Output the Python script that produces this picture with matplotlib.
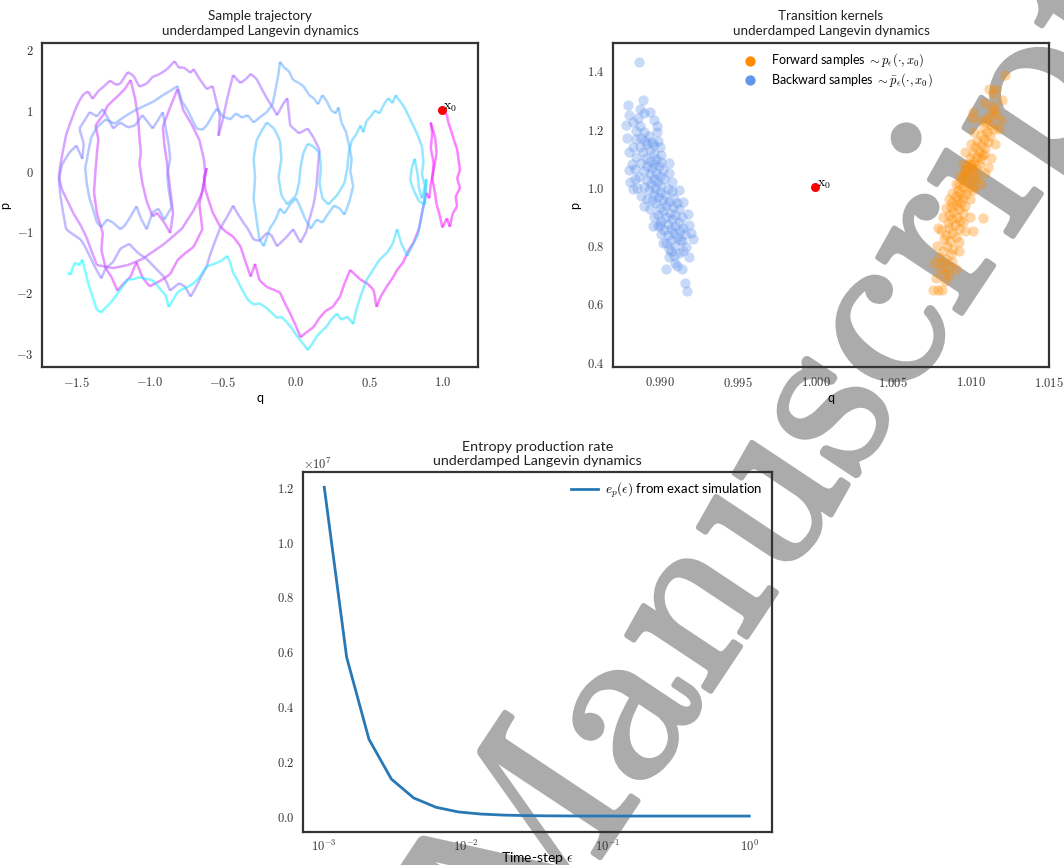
import numpy as np
import matplotlib
matplotlib.use("Agg")
import matplotlib.pyplot as plt
import matplotlib.patheffects as pe
from matplotlib.collections import LineCollection
from matplotlib.ticker import FuncFormatter

plt.rcParams['font.family'] = ['Lato', 'DejaVu Sans']
plt.rcParams['mathtext.fontset'] = 'cm'

# ---- panel 1: sample trajectory (q, p), in time order
traj = [
    # right loop (start at x0)
    (1.00, 1.00), (1.03, 0.93), (1.04, 0.80), (1.06, 0.66), (1.08, 0.50), (1.10, 0.36), (1.11, 0.18),
    (1.12, 0.02), (1.10, -0.12), (1.12, -0.28), (1.09, -0.42), (1.10, -0.58), (1.07, -0.70), (1.05, -0.92),
    (1.03, -0.78), (1.00, -0.93), (0.98, -0.72), (0.96, -0.55), (0.95, -0.38), (0.93, -0.12), (0.94, 0.12),
    (0.92, 0.38), (0.93, 0.62), (0.92, 0.80), (0.95, 0.55), (0.96, 0.30), (0.94, 0.02), (0.92, -0.22),
    (0.91, -0.45),
    # lower sweep to the left
    (0.89, -0.36), (0.86, -0.69), (0.84, -0.95), (0.80, -1.19), (0.77, -1.30), (0.73, -1.51), (0.69, -1.63),
    (0.66, -1.76), (0.62, -1.90), (0.58, -2.06), (0.55, -2.24), (0.53, -1.96), (0.49, -1.86), (0.44, -1.79),
    (0.40, -1.70), (0.37, -1.63), (0.33, -1.86), (0.30, -2.07), (0.25, -2.24), (0.20, -2.31), (0.16, -2.42),
    (0.12, -2.57), (0.07, -2.66), (0.03, -2.74), (0.00, -2.56), (-0.04, -2.35), (-0.08, -2.16), (-0.11, -2.00),
    (-0.16, -1.95), (-0.20, -1.91), (-0.25, -1.80), (-0.28, -1.53), (-0.31, -1.74), (-0.35, -1.46),
    (-0.38, -1.24), (-0.43, -1.08), (-0.48, -1.00), (-0.52, -0.91), (-0.57, -0.68), (-0.60, -0.46),
    (-0.62, -0.30), (-0.63, -0.10), (-0.61, 0.05), (-0.63, -0.20),
    # magenta loops on the left
    (-0.66, -0.55), (-0.64, -0.96), (-0.70, -1.25), (-0.76, -1.36), (-0.81, -1.47), (-0.86, -1.70),
    (-0.92, -1.80), (-1.00, -1.90), (-1.05, -1.75), (-1.09, -1.50), (-1.13, -1.74), (-1.18, -1.86),
    (-1.22, -1.97), (-1.26, -1.75), (-1.30, -1.60), (-1.33, -1.30), (-1.32, -1.02), (-1.36, -0.70),
    (-1.38, -0.35), (-1.37, 0.00), (-1.36, 0.30), (-1.35, 0.52), (-1.37, 0.75), (-1.31, 0.95), (-1.29, 1.07),
    (-1.22, 1.23), (-1.17, 1.35), (-1.13, 1.50), (-1.10, 1.20), (-1.08, 0.90), (-1.07, 0.56), (-1.06, 0.30),
    (-1.07, 0.13), (-1.05, -0.20), (-1.02, -0.50), (-0.98, -0.75), (-0.95, -0.69), (-0.90, -0.85),
    (-0.86, -1.02), (-0.84, -0.70), (-0.86, -0.30), (-0.88, 0.10), (-0.90, 0.45), (-0.91, 0.73),
    (-0.86, 1.05), (-0.81, 1.35), (-0.77, 1.00), (-0.72, 0.80), (-0.66, 0.51), (-0.63, 0.20), (-0.62, -0.05),
    (-0.64, -0.35), (-0.70, -0.65), (-0.78, -0.95), (-0.90, -1.20), (-1.05, -1.45), (-1.15, -1.55),
    (-1.25, -1.60), (-1.36, -1.55), (-1.40, -1.30), (-1.43, -1.10), (-1.47, -0.90), (-1.52, -0.70),
    (-1.56, -0.50), (-1.60, -0.30), (-1.62, -0.10), (-1.61, 0.10),
    # purple outer arc and middle loop
    (-1.59, 0.36), (-1.57, 0.60), (-1.55, 0.74), (-1.51, 1.00), (-1.48, 1.16), (-1.45, 1.27), (-1.42, 1.31),
    (-1.39, 1.19), (-1.35, 1.32), (-1.31, 1.40), (-1.27, 1.49), (-1.23, 1.42), (-1.20, 1.44), (-1.15, 1.63),
    (-1.11, 1.57), (-1.07, 1.39), (-1.02, 1.44), (-0.98, 1.55), (-0.93, 1.60), (-0.88, 1.68), (-0.83, 1.81),
    (-0.80, 1.70), (-0.77, 1.71), (-0.72, 1.62), (-0.70, 1.68), (-0.66, 1.52), (-0.61, 1.35), (-0.57, 1.40),
    (-0.54, 1.10), (-0.52, 0.91), (-0.53, 0.58), (-0.50, 0.85), (-0.47, 1.20), (-0.43, 1.58), (-0.38, 1.45),
    (-0.34, 1.52), (-0.31, 1.60), (-0.27, 1.52), (-0.24, 1.38), (-0.20, 1.20), (-0.16, 1.05), (-0.13, 0.92),
    (-0.09, 1.10), (-0.06, 1.20), (-0.04, 0.75), (0.02, 0.62), (0.08, 0.70), (0.12, 0.55), (0.16, 0.35),
    (0.15, 0.09), (0.14, -0.24), (0.12, -0.55), (0.09, -0.80), (0.07, -1.00), (0.03, -1.18), (-0.02, -0.96),
    (-0.07, -1.10), (-0.13, -1.24), (-0.17, -1.05), (-0.20, -1.02), (-0.25, -1.15), (-0.29, -1.13),
    (-0.33, -0.95), (-0.36, -0.85), (-0.40, -0.70), (-0.43, -0.57), (-0.47, -0.75), (-0.52, -0.95),
    (-0.56, -1.20), (-0.59, -1.40), (-0.61, -1.57), (-0.65, -1.75), (-0.68, -1.90), (-0.72, -2.07),
    (-0.76, -1.90), (-0.80, -1.85), (-0.86, -1.97), (-0.90, -1.75), (-0.96, -1.60), (-1.02, -1.45),
    (-1.08, -1.35), (-1.14, -1.20), (-1.20, -1.28), (-1.25, -1.50), (-1.30, -1.60), (-1.33, -1.77),
    (-1.37, -1.60), (-1.40, -1.45), (-1.44, -1.25), (-1.47, -1.13), (-1.52, -1.05), (-1.57, -0.96),
    (-1.59, -0.70), (-1.61, -0.40), (-1.62, -0.15), (-1.60, 0.10), (-1.55, 0.30), (-1.50, 0.42),
    # blue inner loops
    (-1.46, 0.20), (-1.45, 0.45), (-1.48, 0.70), (-1.44, 0.85), (-1.41, 0.97), (-1.36, 0.90), (-1.32, 1.02),
    (-1.28, 0.85), (-1.25, 0.70), (-1.20, 0.80), (-1.15, 0.72), (-1.10, 0.75), (-1.05, 0.92), (-1.01, 0.80),
    (-0.98, 0.70), (-0.94, 0.85), (-0.91, 0.97), (-0.89, 0.70), (-0.87, 0.45), (-0.86, 0.20), (-0.88, -0.05),
    (-0.87, -0.30), (-0.85, -0.60), (-0.88, -0.72), (-0.90, -0.80), (-0.94, -0.62), (-0.98, -0.68),
    (-1.02, -0.96), (-1.06, -0.78), (-1.09, -0.58), (-1.13, -0.75), (-1.17, -0.90), (-1.20, -0.96),
    (-1.25, -0.85), (-1.29, -0.80), (-1.33, -0.92), (-1.36, -0.85), (-1.39, -0.60), (-1.41, -0.46),
    (-1.43, -0.20), (-1.44, 0.05), (-1.42, 0.30), (-1.40, 0.55), (-1.36, 0.72), (-1.30, 0.85), (-1.24, 0.78),
    (-1.17, 0.90), (-1.10, 1.00), (-1.03, 1.08), (-0.97, 1.15), (-0.91, 1.25), (-0.86, 1.32), (-0.81, 1.40),
    (-0.78, 1.15), (-0.74, 1.00), (-0.71, 0.85), (-0.68, 0.70), (-0.64, 0.68), (-0.61, 0.75), (-0.57, 0.92),
    (-0.54, 1.03), (-0.50, 0.90), (-0.45, 0.85), (-0.41, 0.95), (-0.37, 0.88), (-0.33, 0.92), (-0.29, 0.80),
    (-0.25, 0.88), (-0.20, 0.97),
    # light blue loops in the middle and the right
    (-0.16, 1.10), (-0.14, 1.35), (-0.12, 1.60), (-0.11, 1.80), (-0.08, 1.70), (-0.05, 1.65), (-0.02, 1.50),
    (0.02, 1.45), (0.05, 1.40), (0.09, 1.25), (0.12, 1.20), (0.15, 1.10), (0.18, 1.25), (0.21, 1.15),
    (0.24, 1.00), (0.27, 0.95), (0.29, 1.05), (0.31, 0.80), (0.34, 0.65), (0.36, 0.45), (0.38, 0.20),
    (0.37, 0.00), (0.39, -0.25), (0.37, -0.45), (0.35, -0.60), (0.33, -0.72), (0.30, -0.62), (0.26, -0.57),
    (0.22, -0.70), (0.18, -0.85), (0.14, -0.80), (0.10, -0.95), (0.06, -0.78), (0.03, -0.60), (0.00, -0.45),
    (-0.04, -0.55), (-0.08, -0.70), (-0.11, -0.62), (-0.14, -0.80), (-0.18, -0.95), (-0.22, -1.24),
    (-0.25, -1.13), (-0.27, -0.80), (-0.29, -0.46), (-0.28, -0.10), (-0.29, 0.20), (-0.27, 0.50),
    (-0.24, 0.64), (-0.20, 0.80), (-0.15, 0.70), (-0.11, 0.50), (-0.10, 0.20), (-0.12, -0.10), (-0.10, -0.40),
    (-0.06, -0.55), (0.00, -0.40), (0.02, -0.20), (0.03, 0.05), (0.05, 0.30), (0.08, 0.45), (0.12, 0.40),
    (0.16, 0.30), (0.17, 0.05), (0.16, -0.20), (0.18, -0.45), (0.22, -0.55), (0.28, -0.40), (0.33, -0.20),
    (0.35, 0.05), (0.36, 0.30), (0.38, 0.50), (0.41, 0.60), (0.44, 0.75), (0.46, 0.64), (0.48, 0.82),
    (0.51, 0.90), (0.54, 1.00), (0.57, 0.95), (0.60, 1.10), (0.63, 1.20), (0.66, 1.12), (0.68, 1.25),
    (0.71, 1.15), (0.74, 1.05), (0.77, 0.90), (0.80, 0.75), (0.83, 0.60), (0.86, 0.40), (0.87, 0.15),
    (0.86, -0.05), (0.88, -0.25), (0.86, -0.45), (0.84, -0.30), (0.83, -0.05), (0.81, 0.20), (0.79, 0.05),
    (0.78, -0.15), (0.80, -0.30), (0.84, -0.50), (0.88, -0.55), (0.89, -0.13),
    # cyan return along the bottom
    (0.87, -0.58), (0.83, -1.07), (0.80, -1.20), (0.76, -1.40), (0.72, -1.20), (0.69, -0.96), (0.66, -1.20),
    (0.62, -1.35), (0.57, -1.46), (0.52, -1.65), (0.48, -1.80), (0.44, -2.07), (0.41, -2.30), (0.39, -2.52),
    (0.35, -2.40), (0.31, -2.45), (0.28, -2.35), (0.24, -2.45), (0.21, -2.56), (0.17, -2.65), (0.14, -2.73),
    (0.11, -2.85), (0.08, -2.95), (0.05, -2.85), (0.03, -2.79), (0.00, -2.70), (-0.02, -2.62), (-0.06, -2.50),
    (-0.10, -2.40), (-0.13, -2.42), (-0.16, -2.35), (-0.20, -2.26), (-0.25, -2.18), (-0.29, -2.20),
    (-0.33, -2.12), (-0.37, -1.95), (-0.40, -1.80), (-0.43, -1.68), (-0.45, -1.50), (-0.47, -1.40),
    (-0.51, -1.48), (-0.54, -1.51), (-0.58, -1.55), (-0.61, -1.57), (-0.64, -1.68), (-0.66, -1.75),
    (-0.70, -1.85), (-0.74, -1.91), (-0.78, -1.95), (-0.81, -2.00), (-0.84, -2.12), (-0.87, -2.24),
    (-0.89, -2.05), (-0.91, -2.00), (-0.95, -1.88), (-0.98, -1.80), (-1.02, -1.78), (-1.07, -1.75),
    (-1.11, -1.78), (-1.15, -1.79), (-1.19, -1.92), (-1.22, -2.02), (-1.25, -2.12), (-1.27, -2.18),
    (-1.30, -2.25), (-1.33, -2.33), (-1.36, -2.29), (-1.39, -2.07), (-1.42, -1.85), (-1.44, -1.65),
    (-1.46, -1.46), (-1.48, -1.55), (-1.51, -1.51), (-1.53, -1.62), (-1.54, -1.71), (-1.56, -1.68),
]
x0 = (1.0, 1.0)

# ---- panel 2: transition kernel samples (q, p)
backward = [
    (0.98865, 1.432), (0.98797, 1.283), (0.98799, 1.249), (0.98889, 1.300), (0.98897, 1.257), (0.98860, 1.240),
    (0.98830, 1.225), (0.98870, 1.210), (0.98845, 1.195), (0.98900, 1.190), (0.98985, 1.191), (0.98930, 1.175),
    (0.98880, 1.170), (0.98845, 1.165), (0.98905, 1.160), (0.98950, 1.155), (0.98920, 1.150), (0.98870, 1.140),
    (0.98960, 1.145), (0.99000, 1.140), (0.98935, 1.130), (0.98895, 1.120), (0.98960, 1.115), (0.98850, 1.105),
    (0.98910, 1.100), (0.98975, 1.098), (0.98940, 1.090), (0.98880, 1.085), (0.99010, 1.088), (0.98960, 1.080),
    (0.98920, 1.075), (0.98995, 1.072), (0.98840, 1.062), (0.98950, 1.065), (0.98900, 1.058), (0.99020, 1.060),
    (0.98975, 1.050), (0.98935, 1.045), (0.98865, 1.035), (0.99000, 1.040), (0.98960, 1.030), (0.98920, 1.025),
    (0.99030, 1.028), (0.98985, 1.018), (0.98945, 1.010), (0.98854, 0.997), (0.99010, 1.005), (0.98970, 0.998),
    (0.98930, 0.992), (0.99050, 0.995), (0.99000, 0.985), (0.98960, 0.978), (0.99080, 0.988), (0.99035, 0.975),
    (0.98990, 0.968), (0.99090, 0.965), (0.98950, 0.958), (0.99020, 0.955), (0.99060, 0.950), (0.99110, 0.948),
    (0.98975, 0.945), (0.99040, 0.938), (0.99000, 0.930), (0.99085, 0.932), (0.99120, 0.925), (0.99020, 0.918),
    (0.99065, 0.912), (0.98990, 0.905), (0.99100, 0.905), (0.99040, 0.898), (0.99140, 0.900), (0.99080, 0.890),
    (0.99010, 0.885), (0.99120, 0.880), (0.99050, 0.875), (0.99100, 0.868), (0.98957, 0.867), (0.98990, 0.866),
    (0.99150, 0.862), (0.99070, 0.858), (0.99030, 0.852), (0.99130, 0.850), (0.99090, 0.842), (0.99160, 0.840),
    (0.99050, 0.835), (0.99110, 0.828), (0.99070, 0.820), (0.99210, 0.823), (0.99140, 0.815), (0.99040, 0.808),
    (0.99100, 0.800), (0.99170, 0.795), (0.99060, 0.790), (0.99147, 0.782), (0.99120, 0.775), (0.99058, 0.761),
    (0.99090, 0.765), (0.99100, 0.740), (0.99143, 0.718), (0.99110, 0.730), (0.99038, 0.718), (0.99161, 0.671),
    (0.99172, 0.644), (0.98980, 1.210), (0.99010, 1.110), (0.98830, 1.140), (0.98820, 1.080), (0.98840, 1.030),
    (0.98810, 1.020), (0.98830, 0.995), (0.99080, 1.020), (0.99060, 1.050), (0.98800, 1.120), (0.98790, 1.170),
    (0.98960, 1.230), (0.98940, 1.260), (0.98780, 1.215), (0.99120, 0.990), (0.99150, 0.950), (0.98920, 0.960),
    (0.98900, 0.935), (0.99180, 0.910), (0.99190, 0.870), (0.98960, 0.900), (0.98940, 0.925), (0.99200, 0.845),
    (0.99005, 0.840), (0.99020, 0.810), (0.99190, 0.760), (0.99000, 0.870), (0.98900, 1.000), (0.98880, 0.970),
    (0.99060, 1.085), (0.98990, 1.160), (0.98870, 1.270), (0.98800, 1.060), (0.99130, 0.820), (0.99070, 0.780),
]
forward = [
    (1.01218, 1.386), (1.01115, 1.338), (1.01140, 1.320), (1.01160, 1.338), (1.01009, 1.260), (1.01005, 1.237),
    (1.01137, 1.280), (1.01150, 1.270), (1.01125, 1.255), (1.01110, 1.240), (1.01160, 1.250), (1.01095, 1.225),
    (1.01130, 1.215), (1.01080, 1.205), (1.01145, 1.200), (1.01100, 1.190), (1.01060, 1.180), (1.01120, 1.175),
    (1.01080, 1.165), (1.01040, 1.160), (1.01110, 1.155), (1.01065, 1.145), (1.01025, 1.140), (1.01090, 1.135),
    (1.01050, 1.125), (1.01010, 1.118), (1.01080, 1.115), (1.01035, 1.105), (1.00995, 1.100), (1.01065, 1.098),
    (1.01020, 1.088), (1.00985, 1.080), (1.01050, 1.080), (1.01005, 1.070), (1.00970, 1.062), (1.01040, 1.062),
    (1.00990, 1.052), (1.00955, 1.045), (1.01025, 1.045), (1.00975, 1.035), (1.00940, 1.028), (1.01010, 1.028),
    (1.00960, 1.018), (1.00925, 1.010), (1.00995, 1.012), (1.00945, 1.000), (1.00980, 0.995), (1.00915, 0.990),
    (1.00930, 0.982), (1.00965, 0.978), (1.00900, 0.972), (1.00950, 0.965), (1.00915, 0.958), (1.00880, 0.950),
    (1.00935, 0.948), (1.00900, 0.940), (1.00960, 0.935), (1.00870, 0.932), (1.00920, 0.925), (1.00885, 0.915),
    (1.00945, 0.912), (1.00860, 0.905), (1.00910, 0.900), (1.01077, 0.894), (1.00875, 0.890), (1.00930, 0.885),
    (1.00850, 0.878), (1.00895, 0.870), (1.00860, 0.860), (1.00806, 0.854), (1.00920, 0.858), (1.01009, 0.851),
    (1.00880, 0.845), (1.00840, 0.835), (1.00900, 0.830), (1.00827, 0.823), (1.00865, 0.815), (1.00920, 0.812),
    (1.00845, 0.800), (1.00885, 0.790), (1.00820, 0.782), (1.00870, 0.770), (1.00795, 0.762), (1.00840, 0.755),
    (1.00880, 0.745), (1.00815, 0.740), (1.00850, 0.728), (1.00800, 0.720), (1.00830, 0.705), (1.00774, 0.690),
    (1.00860, 0.700), (1.00812, 0.646), (1.00752, 0.647), (1.00790, 0.646), (1.00830, 0.680), (1.01000, 1.080),
    (1.01040, 1.030), (1.01070, 1.110), (1.00960, 1.060), (1.01020, 1.000),
    (1.00840, 0.930), (1.00820, 0.900), (1.00990, 0.960), (1.01010, 0.990), (1.00880, 0.980), (1.00900, 1.010),
    (1.01060, 1.010), (1.01090, 1.050), (1.00950, 1.080), (1.00960, 1.120), (1.01130, 1.100), (1.01150, 1.150),
    (1.01000, 1.150), (1.01020, 1.190), (1.01180, 1.200), (1.01190, 1.230), (1.01060, 1.230), (1.00950, 0.880),
    (1.00960, 0.850), (1.00780, 0.800), (1.00760, 0.740), (1.00920, 0.780), (1.00900, 0.720), (1.00790, 0.860),
    (1.00990, 0.900), (1.01200, 1.300), (1.01080, 1.290), (1.00930, 1.040), (1.01110, 1.070), (1.00860, 0.960),
]

# ---- panel 3: entropy production rate vs time step
eps = [1.000e-3, 1.438e-3, 2.069e-3, 2.976e-3, 4.281e-3, 6.158e-3, 8.859e-3, 1.274e-2, 1.833e-2, 2.637e-2,
       3.793e-2, 5.456e-2, 7.848e-2, 1.129e-1, 1.624e-1, 2.336e-1, 3.360e-1, 4.833e-1, 6.952e-1, 1.000]
ep = [1.20e7, 5.80e6, 2.80e6, 1.35e6, 6.60e5, 3.20e5, 1.50e5, 7.40e4, 3.60e4, 1.70e4,
      8.0e3, 4.0e3, 2.0e3, 9.0e2, 4.5e2, 2.2e2, 1.1e2, 5.0e1, 2.5e1, 1.2e1]

fig = plt.figure(figsize=(10.64, 8.65), dpi=100)
ax1 = fig.add_axes([0.0395, 0.5757, 0.4098, 0.3746])
ax2 = fig.add_axes([0.5761, 0.5757, 0.4098, 0.3746])
ax3 = fig.add_axes([0.2848, 0.0382, 0.4408, 0.4162])

title_kw = dict(fontsize=9.6, color='#222222', linespacing=1.3, pad=6)
for ax in (ax1, ax2, ax3):
    ax.set_facecolor('none')
    for s in ax.spines.values():
        s.set_color('#333333')
        s.set_linewidth(1.6)
    ax.tick_params(length=0, labelsize=9, colors='#333333', pad=6)

def mfmt(fmt):
    return FuncFormatter(lambda v, pos: '$' + (fmt % v) + '$')

# panel 1
tr = np.array(traj)
segs = np.stack([tr[:-1], tr[1:]], axis=1)
lc = LineCollection(segs, cmap='cool_r', linewidths=1.8, alpha=0.5)
lc.set_array(np.linspace(0, 1, len(segs)))
ax1.add_collection(lc)
ax1.scatter([x0[0]], [x0[1]], color='red', s=30, zorder=5)
ax1.text(x0[0] + 0.005, x0[1] + 0.01, r'$\mathrm{x}_0$', fontsize=10, zorder=6)
ax1.set_xlim(-1.735, 1.243)
ax1.set_ylim(-3.23, 2.11)
ax1.set_xticks([-1.5, -1.0, -0.5, 0.0, 0.5, 1.0])
ax1.set_yticks([-3, -2, -1, 0, 1, 2])
ax1.xaxis.set_major_formatter(mfmt('%.1f'))
ax1.yaxis.set_major_formatter(mfmt('%d'))
ax1.set_xlabel('q', fontsize=9, labelpad=2)
ax1.set_ylabel('p', fontsize=9, labelpad=4)
ax1.set_title('Sample trajectory\nunderdamped Langevin dynamics', **title_kw)

# panel 2
fw = np.array(forward)
bw = np.array(backward)
ax2.scatter(fw[:, 0], fw[:, 1], s=55, color='darkorange', alpha=0.35, linewidths=0,
            label=r'Forward samples $\sim p_\epsilon(\cdot, x_0)$')
ax2.scatter(bw[:, 0], bw[:, 1], s=55, color='cornflowerblue', alpha=0.35, linewidths=0,
            label=r'Backward samples $\sim \bar{p}_\epsilon(\cdot, x_0)$')
ax2.scatter([x0[0]], [x0[1]], color='red', s=30, zorder=5)
ax2.text(x0[0] + 0.0001, x0[1] + 0.003, r'$\mathrm{x}_0$', fontsize=10, zorder=6)
ax2.set_xlim(0.98699, 1.01494)
ax2.set_ylim(0.383, 1.496)
ax2.set_xticks([0.990, 0.995, 1.000, 1.005, 1.010, 1.015])
ax2.set_yticks([0.4, 0.6, 0.8, 1.0, 1.2, 1.4])
ax2.xaxis.set_major_formatter(mfmt('%.3f'))
ax2.yaxis.set_major_formatter(mfmt('%.1f'))
ax2.set_xlabel('q', fontsize=9, labelpad=2)
ax2.set_ylabel('p', fontsize=9, labelpad=4)
ax2.set_title('Transition kernels\nunderdamped Langevin dynamics', **title_kw)
leg = ax2.legend(loc='upper center', frameon=False, fontsize=9, handletextpad=0.7, labelspacing=0.15,
                 borderaxespad=0.3, bbox_to_anchor=(0.51, 1.0))
for h in leg.legend_handles:
    h.set_alpha(1)

# panel 3
ax3.plot(eps, ep, color='#2878b5', lw=2, label=r'$e_p(\epsilon)$ from exact simulation')
ax3.set_xscale('log')
ax3.set_xlim(10 ** -3.15, 10 ** 0.161)
ax3.set_ylim(-0.058e7, 1.256e7)
ax3.set_yticks([0, 0.2e7, 0.4e7, 0.6e7, 0.8e7, 1.0e7, 1.2e7])
ax3.yaxis.set_major_formatter(FuncFormatter(lambda v, pos: '$%.1f$' % (v / 1e7)))
ax3.set_xticks([1e-3, 1e-2, 1e-1, 1])
ax3.xaxis.set_major_formatter(FuncFormatter(lambda v, pos: '$10^{%d}$' % round(np.log10(v))))
ax3.minorticks_off()
ax3.tick_params(axis='x', pad=4)
ax3.text(0.0, 1.008, r'$\times10^{7}$', transform=ax3.transAxes, fontsize=9, color='#333333')
ax3.set_xlabel(r'Time-step $\epsilon$', fontsize=10, labelpad=-2)
ax3.set_title('Entropy production rate\nunderdamped Langevin dynamics', fontsize=10.3, color='#222222',
              linespacing=1.2, pad=5)
ax3.legend(loc='upper right', frameon=False, fontsize=9.5, handlelength=2.0, handletextpad=0.6,
           borderaxespad=0.3)

# watermark (Computer Modern, drawn underneath the axes contents)
fig.text(0.4925, -0.1237, 'Manuscript', fontsize=168, family='cmr10', color='#ababab',
         rotation=56.4, rotation_mode='anchor', ha='left', va='baseline', zorder=-5,
         path_effects=[pe.withStroke(linewidth=4, foreground='#ababab')])

fig.savefig('out.png', dpi=100)
